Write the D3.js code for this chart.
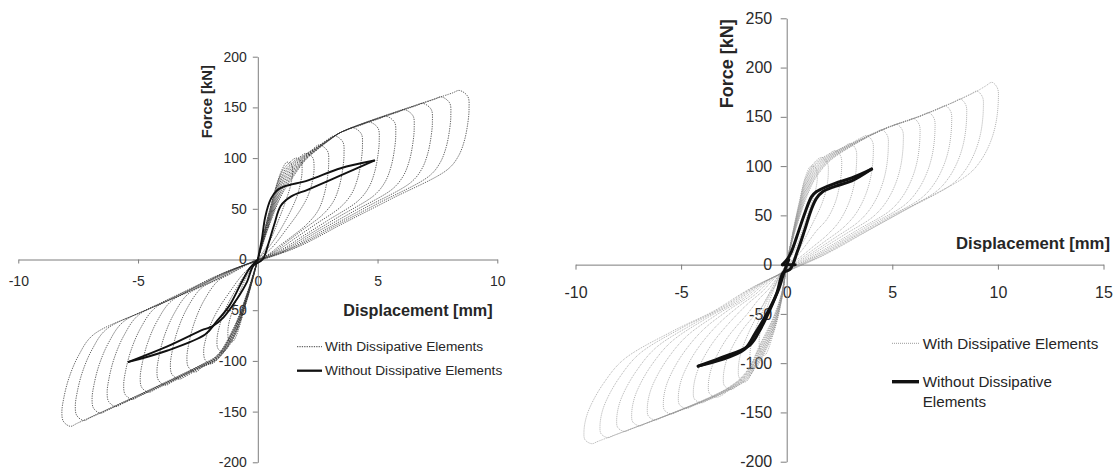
<!DOCTYPE html>
<html>
<head>
<meta charset="utf-8">
<script src="https://cdn.jsdelivr.net/npm/d3@7"></script>
<style>
  body { margin: 0; background: #fff; }
  svg { display: block; }
  text { font-family: "Liberation Sans", Arial, Helvetica, sans-serif; fill: #262626; }
</style>
</head>
<body>
<svg id="chart" width="1117" height="471"></svg>
<script>
// ---------------------------------------------------------------------------
// Force–displacement data, [displacement mm, force kN]
// ---------------------------------------------------------------------------
const leftXTicks = [-10, -5, 0, 5, 10];
const leftYTicks = [-200, -150, -100, -50, 0, 50, 100, 150, 200];
const rightXTicks = [-10, -5, 0, 5, 10, 15];
const rightYTicks = [-200, -150, -100, -50, 0, 50, 100, 150, 200, 250];

const xTitle = "Displacement [mm]";
const yTitle = "Force [kN]";
const seriesNames = ["With Dissipative Elements", "Without Dissipative Elements"];

// Cyclic test, specimen 1 — one closed cycle per amplitude
const leftCycles = [
  [[0,0],[0.45,45],[1.0,88],[1.22,96],[1.4,94],[1.45,86],[1.38,74],[1.2,60],[0.85,38],[0.45,16],[-0.4,-14],[-0.75,-32],[-1.0,-47],[-1.2,-62],[-1.25,-72],[-1.2,-80],[-1.05,-81],[-0.45,-40]],
  [[0,0],[0.45,44],[1.0,86],[1.35,96],[1.6,100],[1.8,97],[1.85,88],[1.78,75],[1.6,60],[1.15,38],[0.55,15],[-0.5,-14],[-1.0,-33],[-1.35,-49],[-1.58,-64],[-1.7,-78],[-1.66,-88],[-1.45,-91],[-1.0,-77],[-0.45,-39.4]],
  [[0,0],[0.45,42.6],[1.0,83.6],[1.5,96.8],[1.75,101],[2.0,104.6],[2.28,101],[2.35,91],[2.28,77],[2.08,62],[1.75,48],[1.2,30],[0.6,12],[-0.6,-14],[-1.2,-33],[-1.6,-47],[-1.95,-63],[-2.18,-79],[-2.26,-90],[-2.2,-99],[-1.98,-103],[-1.7,-99],[-1.0,-76],[-0.45,-38.8]],
  [[0,0],[0.45,41.4],[1.0,81.4],[1.5,95.2],[2.0,103.9],[2.26,108],[2.56,113],[2.91,107],[2.96,95],[2.91,81],[2.76,63],[2.51,48],[2.06,35],[1.44,23],[0.93,14],[0.41,4.5],[-0.33,-3.5],[-0.75,-9],[-1.16,-14.5],[-1.66,-21],[-2.26,-41],[-2.66,-63],[-2.88,-83],[-2.96,-97],[-2.9,-106],[-2.61,-111],[-2.31,-106],[-1.7,-98.5],[-1.0,-75],[-0.45,-38.2]],
  [[0,0],[0.45,40.2],[1.0,79.2],[1.5,93.6],[2.0,103.2],[2.5,111.4],[2.9,118],[3.2,122],[3.55,116],[3.6,104],[3.55,90],[3.4,72],[3.15,57],[2.7,44],[1.89,29.5],[1.22,17.6],[0.54,5.7],[-0.47,-4.8],[-1.06,-12],[-1.65,-19.3],[-2.35,-28],[-2.95,-48],[-3.35,-70],[-3.57,-90],[-3.65,-104],[-3.59,-113],[-3.3,-118],[-3.0,-115],[-2.4,-107],[-1.7,-98],[-1.0,-74],[-0.45,-37.6]],
  [[0,0],[0.45,39],[1.0,77],[1.5,92],[2.0,102.5],[2.5,111],[3.0,119],[3.5,125.8],[3.67,127.2],[3.97,130],[4.32,124],[4.37,112],[4.32,98],[4.17,80],[3.92,65],[3.47,52],[2.43,35],[1.56,21],[0.69,7],[-0.58,-6],[-1.31,-15],[-2.04,-23.5],[-2.91,-34],[-3.51,-54],[-3.91,-76],[-4.13,-96],[-4.21,-110],[-4.15,-119],[-3.86,-124],[-3.56,-120.5],[-2.4,-106.6],[-1.7,-97.5],[-1.0,-73],[-0.45,-37]],
  [[0,0],[0.45,37.8],[1.0,74.8],[1.5,90.4],[2.0,101.8],[2.5,110.6],[3.0,118.8],[3.5,125.8],[4.37,133],[4.67,135.5],[5.02,129.5],[5.07,117.5],[5.02,103.5],[4.87,85.5],[4.62,70.5],[4.17,57.5],[2.92,38.5],[1.88,23],[0.83,7.5],[-0.72,-7],[-1.62,-17.6],[-2.53,-28.3],[-3.61,-41],[-4.21,-61],[-4.61,-83],[-4.83,-103],[-4.91,-117],[-4.85,-126],[-4.56,-131],[-4.26,-127.8],[-2.4,-106.2],[-1.7,-97],[-1.0,-72],[-0.45,-36.4]],
  [[0,0],[0.45,36.6],[1.0,72.6],[1.5,88.8],[2.0,101.1],[2.5,110.2],[3.0,118.6],[3.5,125.8],[5.06,138.8],[5.36,141.3],[5.71,135.3],[5.76,123.3],[5.71,109.3],[5.56,91.3],[5.31,76.3],[4.86,63.3],[3.4,42.4],[2.19,25.3],[0.97,8.2],[-0.86,-8.2],[-1.94,-20.6],[-3.01,-33.1],[-4.3,-48],[-4.9,-68],[-5.3,-90],[-5.52,-110],[-5.6,-124],[-5.54,-133],[-5.25,-138],[-4.95,-134.9],[-2.4,-105.8],[-1.7,-96.5],[-1.0,-71],[-0.45,-35.8]],
  [[0,0],[0.45,35.4],[1.0,70.4],[1.5,87.2],[2.0,100.4],[2.5,109.8],[3.0,118.4],[3.5,125.8],[5.83,145.2],[6.13,147.7],[6.48,141.7],[6.53,129.7],[6.48,115.7],[6.33,97.7],[6.08,82.7],[5.63,69.7],[3.94,46.7],[2.53,27.9],[1.13,9.1],[-1.0,-9.4],[-2.25,-23.7],[-3.49,-38],[-4.99,-55],[-5.59,-75],[-5.99,-97],[-6.21,-117],[-6.29,-131],[-6.23,-140],[-5.94,-145],[-5.64,-142],[-2.4,-105.4],[-1.7,-96],[-1.0,-70],[-0.45,-35.2]],
  [[0,0],[0.45,34.2],[1.0,68.2],[1.5,85.6],[2.0,99.7],[2.5,109.4],[3.0,118.2],[3.5,125.8],[6.59,151.5],[6.89,154],[7.24,148],[7.29,136],[7.24,122],[7.09,104],[6.84,89],[6.39,76],[4.47,50.9],[2.88,30.4],[1.28,9.9],[-1.12,-10.5],[-2.53,-26.5],[-3.93,-42.5],[-5.62,-61.6],[-6.22,-81.6],[-6.62,-103.6],[-6.84,-123.6],[-6.92,-137.6],[-6.86,-146.6],[-6.57,-151.6],[-6.27,-148.5],[-2.4,-105],[-1.7,-95.5],[-1.0,-69],[-0.45,-34.6]],
  [[0,0],[0.45,33],[1.0,66],[1.5,84],[2.0,99],[2.5,109],[3.0,118],[3.5,125.8],[7.36,157.9],[7.66,160.4],[8.01,154.4],[8.06,142.4],[8.01,128.4],[7.86,110.4],[7.61,95.4],[7.16,82.4],[5.01,55.2],[3.22,33],[1.43,10.7],[-1.26,-11.7],[-2.84,-29.6],[-4.42,-47.5],[-6.32,-68.8],[-6.92,-88.8],[-7.32,-110.8],[-7.54,-130.8],[-7.62,-144.8],[-7.56,-153.8],[-7.27,-158.8],[-6.97,-155.7],[-2.4,-104.6],[-1.7,-95],[-1.0,-68],[-0.45,-34]],
  [[0,0],[0.45,31.8],[1.0,63.8],[1.5,82.4],[2.0,98.3],[2.5,108.6],[3.0,117.8],[3.5,125.8],[8.12,164.2],[8.42,166.7],[8.77,160.7],[8.82,148.7],[8.77,134.7],[8.62,116.7],[8.37,101.7],[7.92,88.7],[5.54,59.4],[3.56,35.5],[1.58,11.5],[-1.38,-12.7],[-3.1,-32],[-4.82,-51.4],[-6.88,-74.5],[-7.48,-94.5],[-7.88,-116.5],[-8.1,-136.5],[-8.18,-150.5],[-8.12,-159.5],[-7.83,-164.5],[-7.53,-161.4],[-2.4,-104.2],[-1.7,-94.5],[-1.0,-67],[-0.45,-33.4]]
];

// Reference specimen 1, no dissipative elements
const leftMonotonic = [[0,0],[0.17,20],[0.31,42],[0.55,60],[0.8,68],[1.1,72],[2.1,78],[3.46,90],[4.86,97.6],[3.46,83],[2.1,69],[1.38,62],[0.96,53],[0.68,34],[0.45,16],[0.2,0],[-0.18,-6],[-0.45,-22],[-0.87,-39],[-1.43,-57],[-1.9,-66],[-2.26,-69],[-3.8,-86],[-5.39,-101],[-3.8,-90],[-2.2,-74],[-1.75,-62],[-1.2,-46],[-0.73,-25],[-0.35,-9],[0,0]];

// Cyclic test, specimen 2
const rightCycles = [
  [[0,0],[0.3,34],[0.6,64],[0.9,90],[1.15,100],[1.38,98],[1.45,89],[1.38,77],[1.2,64],[0.85,42],[0.45,18],[-0.35,-12],[-0.7,-30],[-0.95,-45],[-1.18,-62],[-1.3,-75],[-1.25,-87],[-1.05,-92],[-0.63,-70],[-0.24,-36]],
  [[0,0],[0.3,33.4],[0.6,62.6],[0.9,88],[1.34,104.4],[1.67,108.8],[1.93,103],[1.97,93],[1.88,77],[1.65,61],[1.3,45],[0.85,26],[0.4,9],[-0.35,-12],[-0.75,-29],[-1.15,-48],[-1.45,-64],[-1.66,-79],[-1.74,-92],[-1.69,-101],[-1.45,-104],[-1.26,-98.4],[-0.63,-68.6],[-0.24,-35.4]],
  [[0,0],[0.3,32.8],[0.6,61.2],[0.9,86],[1.34,102.8],[2.0,112.4],[2.3,115.7],[2.56,110],[2.6,98],[2.5,80],[2.28,62],[1.9,46],[1.4,34],[0.95,21],[0.5,9],[-0.3,-9],[-0.7,-24],[-1.1,-40],[-1.6,-60],[-1.98,-78],[-2.2,-92],[-2.29,-106],[-2.24,-115],[-1.95,-119],[-1.6,-108],[-1.26,-96.8],[-0.63,-67.2],[-0.24,-34.8]],
  [[0,0],[0.3,32.2],[0.6,59.8],[0.9,84],[1.34,101.2],[2.0,111.6],[2.71,119.6],[3.01,123],[3.27,117],[3.31,105],[3.19,81],[2.91,61],[2.46,43],[1.86,29],[1.3,19.1],[0.84,11],[0.37,2.9],[-0.23,-9.6],[-0.51,-20.5],[-0.8,-29.3],[-1.14,-41.8],[-2.08,-65.8],[-2.65,-86.8],[-2.9,-100.8],[-3.0,-114.8],[-2.95,-122.8],[-2.63,-126.8],[-2.33,-123],[-1.89,-117],[-1.26,-95.2],[-0.63,-65.8],[-0.24,-34.2]],
  [[0,0],[0.3,31.6],[0.6,58.4],[0.9,82],[1.34,99.6],[2.0,110.8],[3.08,123.4],[3.5,128.5],[3.8,131],[4.06,125],[4.1,113],[3.98,89],[3.7,69],[3.25,51],[2.65,37],[1.86,24.4],[1.19,14.1],[0.53,3.7],[-0.37,-11.4],[-0.83,-24.3],[-1.3,-34.7],[-1.85,-49.6],[-2.79,-73.6],[-3.36,-94.6],[-3.61,-108.6],[-3.71,-122.6],[-3.66,-130.6],[-3.34,-134.6],[-3.04,-132.2],[-2.84,-129],[-1.89,-116],[-1.26,-93.6],[-0.63,-64.4],[-0.24,-33.6]],
  [[0,0],[0.3,31],[0.6,57],[0.9,80],[1.34,98],[2.0,110],[3.08,123],[4.21,134.4],[4.51,136.8],[4.77,130.8],[4.81,118.8],[4.69,94.8],[4.41,74.8],[3.96,56.8],[3.36,42.8],[2.35,28.2],[1.51,16.3],[0.67,4.3],[-0.51,-12.7],[-1.15,-27.1],[-1.79,-38.7],[-2.56,-55.3],[-3.5,-79.3],[-4.07,-100.3],[-4.32,-114.3],[-4.42,-128.3],[-4.37,-136.3],[-4.05,-140.3],[-3.75,-137.9],[-2.84,-128.6],[-1.89,-115],[-1.26,-92],[-0.63,-63],[-0.24,-33]],
  [[0,0],[0.3,30.4],[0.6,55.6],[0.9,78],[1.34,96.4],[2.0,109.2],[3.08,122.6],[4.92,140],[5.22,142.3],[5.48,136.3],[5.52,124.3],[5.4,100.3],[5.12,80.3],[4.67,62.3],[4.07,48.3],[2.85,31.9],[1.83,18.4],[0.81,4.8],[-0.65,-14],[-1.47,-29.9],[-2.29,-42.7],[-3.27,-61],[-4.21,-85],[-4.78,-106],[-5.03,-120],[-5.13,-134],[-5.08,-142],[-4.76,-146],[-4.46,-143.6],[-2.84,-128.2],[-1.89,-114],[-1.26,-90.4],[-0.63,-61.6],[-0.24,-32.4]],
  [[0,0],[0.3,29.8],[0.6,54.2],[0.9,76],[1.34,94.8],[2.0,108.4],[3.08,122.2],[4.65,138],[5.71,145.9],[6.01,148.3],[6.27,142.3],[6.31,130.3],[6.19,106.3],[5.91,86.3],[5.46,68.3],[4.86,54.3],[3.4,35.8],[2.19,20.6],[0.97,5.4],[-0.8,-15.3],[-1.79,-32.6],[-2.79,-46.6],[-3.98,-66.6],[-4.92,-90.6],[-5.49,-111.6],[-5.74,-125.6],[-5.84,-139.6],[-5.79,-147.6],[-5.47,-151.6],[-5.17,-149.2],[-2.84,-127.8],[-1.89,-113],[-1.26,-88.8],[-0.63,-60.2],[-0.24,-31.8]],
  [[0,0],[0.3,29.2],[0.6,52.8],[0.9,74],[1.34,93.2],[2.0,107.6],[3.08,121.8],[4.65,138],[6.42,151.7],[6.72,154.3],[6.98,148.3],[7.02,136.3],[6.9,112.3],[6.62,92.3],[6.17,74.3],[5.57,60.3],[3.9,39.8],[2.51,22.9],[1.11,6],[-0.95,-16.7],[-2.13,-35.6],[-3.32,-50.9],[-4.74,-72.7],[-5.68,-96.7],[-6.25,-117.7],[-6.5,-131.7],[-6.6,-145.7],[-6.55,-153.7],[-6.23,-157.7],[-5.93,-155.3],[-2.84,-127.4],[-1.89,-112],[-1.26,-87.2],[-0.63,-58.8],[-0.24,-31.2]],
  [[0,0],[0.3,28.6],[0.6,51.4],[0.9,72],[1.34,91.6],[2.0,106.8],[3.08,121.4],[4.65,138],[6.23,150],[7.21,158.7],[7.51,161.3],[7.77,155.3],[7.81,143.3],[7.69,119.3],[7.41,99.3],[6.96,81.3],[6.36,67.3],[4.45,44.4],[2.86,25.6],[1.27,6.7],[-1.1,-18.1],[-2.47,-38.5],[-3.84,-55],[-5.48,-78.6],[-6.42,-102.6],[-6.99,-123.6],[-7.24,-137.6],[-7.34,-151.6],[-7.29,-159.6],[-6.97,-163.6],[-6.67,-161.2],[-2.84,-127],[-1.89,-111],[-1.26,-85.6],[-0.63,-57.4],[-0.24,-30.6]],
  [[0,0],[0.3,28],[0.6,50],[0.9,70],[1.34,90],[2.0,106],[3.08,121],[4.65,138],[6.23,150],[7.92,165.1],[8.22,168.1],[8.48,162.1],[8.52,150.1],[8.4,126.1],[8.12,106.1],[7.67,88.1],[7.07,74.1],[4.95,48.9],[3.18,28.2],[1.41,7.4],[-1.24,-19.4],[-2.79,-41.3],[-4.33,-59],[-6.19,-84.3],[-7.13,-108.3],[-7.7,-129.3],[-7.95,-143.3],[-8.05,-157.3],[-8.0,-165.3],[-7.68,-169.3],[-7.38,-166.9],[-2.84,-126.6],[-1.89,-110],[-1.26,-84],[-0.63,-56],[-0.24,-30]],
  [[0,0],[0.3,27.4],[0.6,48.6],[0.9,68],[1.34,88.4],[2.0,105.2],[3.08,120.6],[4.65,138],[6.23,150],[7.81,164],[8.71,173.1],[9.01,176.1],[9.27,170.1],[9.31,158.1],[9.19,134.1],[8.91,114.1],[8.46,96.1],[7.86,82.1],[5.5,54.2],[3.54,31.2],[1.57,8.2],[-1.4,-20.8],[-3.14,-44.4],[-4.89,-63.4],[-6.98,-90.6],[-7.92,-114.6],[-8.49,-135.6],[-8.74,-149.6],[-8.84,-163.6],[-8.79,-171.6],[-8.47,-175.6],[-8.17,-173.2],[-2.84,-126.2],[-1.89,-109],[-1.26,-82.4],[-0.63,-54.6],[-0.24,-29.4]],
  [[0,0],[0.3,26.8],[0.6,47.2],[0.9,66],[1.34,86.8],[2.0,104.4],[3.08,120.2],[4.65,138],[6.23,150],[7.81,164],[9.0,176],[9.42,181.3],[9.72,185],[9.98,179],[10.02,167],[9.9,143],[9.62,123],[9.17,105],[8.57,91],[6.0,60.1],[3.86,34.6],[1.71,9.1],[-1.55,-22.2],[-3.48,-47.4],[-5.42,-67.7],[-7.74,-96.7],[-8.68,-120.7],[-9.25,-141.7],[-9.5,-155.7],[-9.6,-169.7],[-9.55,-177.7],[-9.23,-181.7],[-8.93,-179.3],[-2.84,-125.8],[-1.89,-108],[-1.26,-80.8],[-0.63,-53.2],[-0.24,-28.8]]
];

// Reference specimen 2, no dissipative elements
const rightMonotonic = [[0.4,0],[-0.2,0],[0.05,6],[0.24,14],[0.55,33],[0.87,53],[1.18,69],[1.4,74],[1.66,77],[2.29,82.5],[3.08,88],[4.02,97],[3.08,85],[2.29,79.5],[1.7,74],[1.4,67],[1.15,55],[0.85,35],[0.5,13],[0.15,-5],[-0.16,-8],[-0.47,-29],[-0.95,-53],[-1.26,-66],[-1.74,-81.6],[-3.16,-95],[-4.19,-103],[-3.16,-97],[-2.0,-86],[-1.5,-70],[-0.87,-47],[-0.4,-26],[-0.1,-6],[0.1,5]];

// ---------------------------------------------------------------------------
// Layout and styling for the two panels
// ---------------------------------------------------------------------------
const panels = [
  {
    cycles: leftCycles, mono: leftMonotonic, xTicks: leftXTicks, yTicks: leftYTicks,
    xDomain: [-10, 10], xRange: [18.3, 497.3],
    yDomain: [-200, 200], yRange: [462.3, 56.7],
    tickFont: 14, xTickSize: 4, xPad: 13, yTickSize: 5, yPad: 6,
    cycleColor: "#2e2e2e", cycleWidth: 0.75, cycleDash: "1.3 1.1",
    monoWidth: 1.9,
    xTitle: { x: 418, y: 315.5, size: 16.2, anchor: "middle" },
    yTitle: { x: 207, y: 101.7, size: 14.8 },
    legend: { x1: 297, x2: 322, tx: 325, y1: 346.7, y2: 370.7, size: 13.7, wrap: false }
  },
  {
    cycles: rightCycles, mono: rightMonotonic, xTicks: rightXTicks, yTicks: rightYTicks,
    xDomain: [-10, 15], xRange: [575.5, 1103.5],
    yDomain: [-200, 250], yRange: [461.7, 18.3],
    tickFont: 16, xTickSize: 5, xPad: 17, yTickSize: 6, yPad: 8.5,
    cycleColor: "#8e8e8e", cycleWidth: 0.7, cycleDash: "1 1",
    monoWidth: 3,
    xTitle: { x: 1110, y: 248.5, size: 16.7, anchor: "end" },
    yTitle: { x: 726.7, y: 63.7, size: 18 },
    legend: { x1: 892, x2: 919, tx: 922.7, y1: 343.3, y2: 381.7, size: 15.2, wrap: true }
  }
];

// Break a path into runs where displacement keeps one direction
function splitAtReversals(pts) {
  const runs = [];
  let start = 0;
  for (let k = 1; k < pts.length - 1; k++) {
    const a = pts[k][0] - pts[k - 1][0];
    const b = pts[k + 1][0] - pts[k][0];
    if (a * b < 0) { runs.push(pts.slice(start, k + 1)); start = k; }
  }
  runs.push(pts.slice(start));
  return runs;
}

const svg = d3.select("#chart");

panels.forEach(p => {
  const x = d3.scaleLinear().domain(p.xDomain).range(p.xRange);
  const y = d3.scaleLinear().domain(p.yDomain).range(p.yRange);
  const g = svg.append("g");

  // Axes crossing at the origin
  const xAxis = g.append("g")
    .attr("transform", `translate(0,${y(0)})`)
    .call(d3.axisBottom(x).tickValues(p.xTicks).tickSize(p.xTickSize)
      .tickSizeOuter(0).tickPadding(p.xPad).tickFormat(d => String(d)));
  const yAxis = g.append("g")
    .attr("transform", `translate(${x(0)},0)`)
    .call(d3.axisLeft(y).tickValues(p.yTicks).tickSize(p.yTickSize)
      .tickSizeOuter(0).tickPadding(p.yPad).tickFormat(d => String(d)));
  [xAxis, yAxis].forEach(a => {
    a.attr("font-size", p.tickFont);
    a.select(".domain").attr("stroke", "#7d7d7d").attr("stroke-width", 1);
    a.selectAll(".tick line").attr("stroke", "#7d7d7d");
    a.selectAll(".tick text").style("fill", "#2a2a2a");
  });

  // Hysteresis cycles with dissipative elements
  const loop = d3.line()
    .x(d => x(d[0])).y(d => y(d[1]))
    .curve(d3.curveCatmullRomClosed.alpha(0.5));
  g.append("g").selectAll("path")
    .data(p.cycles)
    .join("path")
    .attr("d", loop)
    .attr("fill", "none")
    .attr("stroke", p.cycleColor)
    .attr("stroke-width", p.cycleWidth)
    .attr("stroke-dasharray", p.cycleDash);

  // Response without dissipative elements
  const strand = d3.line()
    .x(d => x(d[0])).y(d => y(d[1]))
    .curve(d3.curveCatmullRom.alpha(0.5));
  g.append("g").selectAll("path")
    .data(splitAtReversals(p.mono))
    .join("path")
    .attr("d", strand)
    .attr("fill", "none")
    .attr("stroke", "#111")
    .attr("stroke-width", p.monoWidth)
    .attr("stroke-linejoin", "round")
    .attr("stroke-linecap", "round");

  // Axis titles
  g.append("text")
    .attr("x", p.xTitle.x).attr("y", p.xTitle.y)
    .attr("text-anchor", p.xTitle.anchor)
    .attr("font-size", p.xTitle.size)
    .attr("font-weight", "bold")
    .text(xTitle);
  g.append("text")
    .attr("transform", `translate(${p.yTitle.x},${p.yTitle.y}) rotate(-90)`)
    .attr("text-anchor", "middle")
    .attr("dy", "0.35em")
    .attr("font-size", p.yTitle.size)
    .attr("font-weight", "bold")
    .text(yTitle);

  // Legend
  const L = p.legend;
  g.append("line")
    .attr("x1", L.x1).attr("x2", L.x2).attr("y1", L.y1).attr("y2", L.y1)
    .attr("stroke", p.cycleColor).attr("stroke-width", 0.9)
    .attr("stroke-dasharray", p.cycleDash);
  g.append("line")
    .attr("x1", L.x1).attr("x2", L.x2).attr("y1", L.y2).attr("y2", L.y2)
    .attr("stroke", "#111").attr("stroke-width", p.monoWidth + 0.4);
  g.append("text")
    .attr("x", L.tx).attr("y", L.y1).attr("dy", "0.35em")
    .attr("font-size", L.size)
    .text(seriesNames[0]);
  const t2 = g.append("text")
    .attr("x", L.tx).attr("y", L.y2).attr("dy", "0.35em")
    .attr("font-size", L.size);
  if (L.wrap) {
    const words = seriesNames[1].split(" ");
    t2.append("tspan").attr("x", L.tx).text(words.slice(0, 2).join(" "));
    t2.append("tspan").attr("x", L.tx).attr("dy", "1.3em").text(words.slice(2).join(" "));
  } else {
    t2.text(seriesNames[1]);
  }
});
</script>
</body>
</html>
